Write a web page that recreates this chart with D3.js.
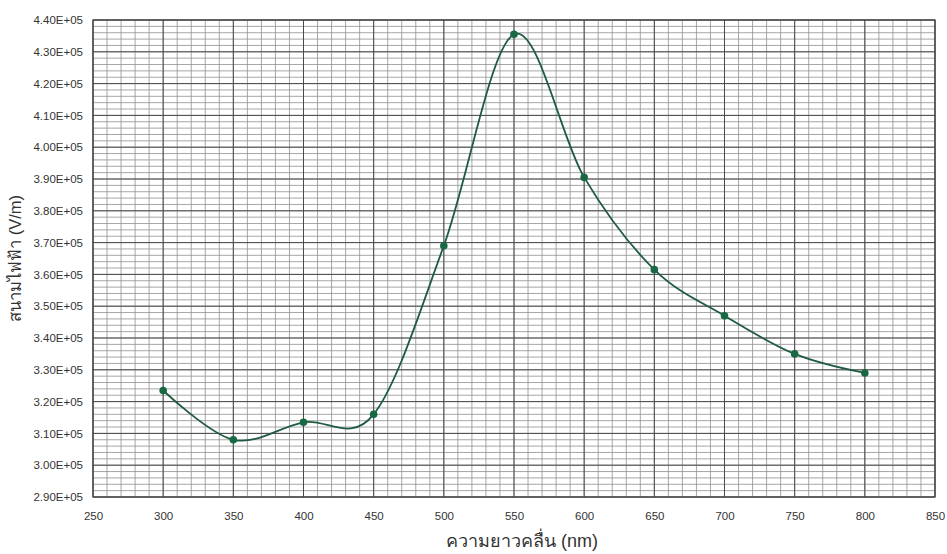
<!DOCTYPE html>
<html>
<head>
<meta charset="utf-8">
<script src="https://cdn.jsdelivr.net/npm/d3@7"></script>
<style>
  body { margin: 0; background: #fff; }
  text { font-family: "Liberation Sans", "DejaVu Sans", sans-serif; }
</style>
</head>
<body>
<svg id="chart" width="947" height="554"></svg>
<script>
// wavelength (nm) vs electric field (V/m)
const wavelengths = [300, 350, 400, 450, 500, 550, 600, 650, 700, 750, 800];
const fieldValues = [323500, 308000, 313500, 316000, 369000, 435500, 390500, 361500, 347000, 335000, 329000];
const xTicks = [250, 300, 350, 400, 450, 500, 550, 600, 650, 700, 750, 800, 850];
const yTicks = d3.range(290000, 440001, 10000);
const xTitle = "ความยาวคลื่น (nm)";
const yTitle = "สนามไฟฟ้า (V/m)";

let svg = d3.select("#chart");
let plot = { left: 93, right: 935, top: 20, bottom: 497 };

let xScale = d3.scaleLinear().domain([250, 850]).range([plot.left, plot.right]);
let yScale = d3.scaleLinear().domain([290000, 440000]).range([plot.bottom, plot.top]);

// minor grid
let grid = svg.append("g");
grid.selectAll(".vminor")
    .data(d3.range(250, 851, 10))
    .join("line")
    .attr("x1", d => xScale(d)).attr("x2", d => xScale(d))
    .attr("y1", plot.top).attr("y2", plot.bottom)
    .attr("stroke", "#8f8f8f").attr("stroke-width", 0.8);
grid.selectAll(".hminor")
    .data(d3.range(290000, 440001, 2000))
    .join("line")
    .attr("x1", plot.left).attr("x2", plot.right)
    .attr("y1", d => yScale(d)).attr("y2", d => yScale(d))
    .attr("stroke", "#8f8f8f").attr("stroke-width", 0.8);

// major grid
grid.selectAll(".vmajor")
    .data(xTicks)
    .join("line")
    .attr("x1", d => xScale(d)).attr("x2", d => xScale(d))
    .attr("y1", plot.top).attr("y2", plot.bottom)
    .attr("stroke", "#4a4a4a").attr("stroke-width", 1);
grid.selectAll(".hmajor")
    .data(yTicks)
    .join("line")
    .attr("x1", plot.left).attr("x2", plot.right)
    .attr("y1", d => yScale(d)).attr("y2", d => yScale(d))
    .attr("stroke", "#4a4a4a").attr("stroke-width", 1);

svg.append("rect")
    .attr("x", plot.left).attr("y", plot.top)
    .attr("width", plot.right - plot.left).attr("height", plot.bottom - plot.top)
    .attr("fill", "none").attr("stroke", "#444").attr("stroke-width", 1.2);

// axes
let xAxis = d3.axisBottom(xScale).tickValues(xTicks).tickSize(0).tickPadding(15);
svg.append("g")
    .attr("transform", `translate(0,${plot.bottom})`)
    .call(xAxis)
    .call(g => g.select(".domain").remove())
    .selectAll("text").attr("font-size", 11.5).attr("fill", "#333")
    .attr("font-family", "Liberation Sans, sans-serif");

let yAxis = d3.axisLeft(yScale).tickValues(yTicks).tickSize(0).tickPadding(10)
    .tickFormat(d => (d / 100000).toFixed(2) + "E+05");
svg.append("g")
    .attr("transform", `translate(${plot.left},0)`)
    .call(yAxis)
    .call(g => g.select(".domain").remove())
    .selectAll("text").attr("font-size", 11.5).attr("fill", "#333")
    .attr("font-family", "Liberation Sans, sans-serif");

// titles
svg.append("text")
    .attr("x", 522).attr("y", 547)
    .attr("text-anchor", "middle")
    .attr("font-size", 18).attr("fill", "#333")
    .text(xTitle);

svg.append("text")
    .attr("transform", `translate(21,${(plot.top + plot.bottom) / 2}) rotate(-90)`)
    .attr("text-anchor", "middle")
    .attr("font-size", 16.5).attr("fill", "#333")
    .text(yTitle);

// data
let points = wavelengths.map((w, i) => [w, fieldValues[i]]);
let line = d3.line()
    .x(d => xScale(d[0]))
    .y(d => yScale(d[1]))
    .curve(d3.curveCatmullRom.alpha(0));

svg.append("path")
    .datum(points)
    .attr("d", line)
    .attr("fill", "none")
    .attr("stroke", "#1f5a42")
    .attr("stroke-width", 1.8);

svg.selectAll(".pt")
    .data(points)
    .join("circle")
    .attr("cx", d => xScale(d[0]))
    .attr("cy", d => yScale(d[1]))
    .attr("r", 3.8)
    .attr("fill", "#176943");
</script>
</body>
</html>
